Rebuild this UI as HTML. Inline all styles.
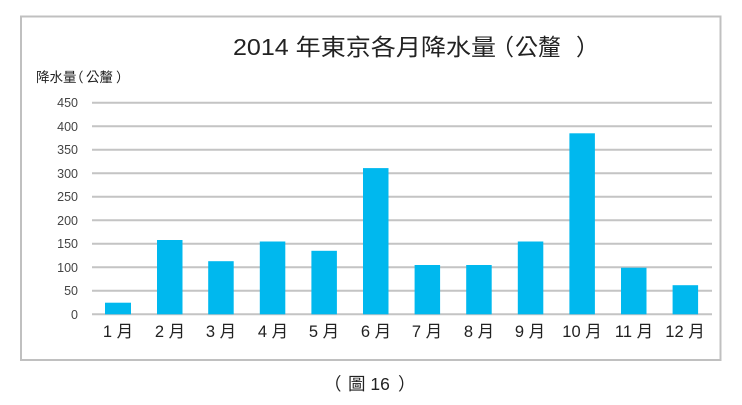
<!DOCTYPE html>
<html><head><meta charset="utf-8"><style>
body{margin:0;width:742px;height:405px;background:#fff;overflow:hidden;font-family:"Liberation Sans","Noto Sans CJK TC",sans-serif;}
</style></head><body>
<svg width="742" height="405" xmlns="http://www.w3.org/2000/svg" style="position:absolute;left:0;top:0">
<rect x="21" y="16.5" width="699.5" height="343.5" fill="#fff" stroke="#c0c0c0" stroke-width="2"/>
<g font-size="23" fill="#222" font-family="Liberation Sans,Noto Sans CJK TC,sans-serif">
<text x="233" y="55" textLength="263" lengthAdjust="spacingAndGlyphs">2014 年東京各月降水量</text>
<text x="491" y="55">（</text>
<text x="515" y="55">公釐</text>
<text x="576" y="55">）</text>
</g>
<g font-size="13.5" fill="#222" font-family="Liberation Sans,Noto Sans CJK TC,sans-serif">
<text x="36" y="82">降水量</text>
<text x="70" y="82">（</text>
<text x="86" y="82">公釐</text>
<text x="116" y="82">）</text>
</g>
<g stroke="#c4c4c4" stroke-width="2">
<line x1="92" x2="712" y1="102.7" y2="102.7"/><line x1="92" x2="712" y1="126.2" y2="126.2"/>
<line x1="92" x2="712" y1="149.7" y2="149.7"/><line x1="92" x2="712" y1="173.2" y2="173.2"/>
<line x1="92" x2="712" y1="196.7" y2="196.7"/><line x1="92" x2="712" y1="220.2" y2="220.2"/>
<line x1="92" x2="712" y1="243.8" y2="243.8"/><line x1="92" x2="712" y1="267.3" y2="267.3"/>
<line x1="92" x2="712" y1="290.8" y2="290.8"/><line x1="92" x2="712" y1="314.3" y2="314.3"/>
</g>
<g font-size="12.5" fill="#444" text-anchor="end" font-family="Liberation Sans,sans-serif">
<text x="78" y="107">450</text><text x="78" y="131">400</text><text x="78" y="154">350</text>
<text x="78" y="178">300</text><text x="78" y="201">250</text><text x="78" y="225">200</text>
<text x="78" y="248">150</text><text x="78" y="272">100</text><text x="78" y="295">50</text><text x="78" y="319">0</text>
</g>
<g fill="#00b8ee">
<rect x="105" y="302.7" width="26" height="11.6"/>
<rect x="157" y="240" width="25.5" height="74.3"/>
<rect x="208.2" y="261.2" width="25.5" height="53.1"/>
<rect x="259.8" y="241.5" width="25.5" height="72.8"/>
<rect x="311.4" y="250.8" width="25.5" height="63.5"/>
<rect x="363" y="168.1" width="25.5" height="146.2"/>
<rect x="414.6" y="265" width="25.5" height="49.3"/>
<rect x="466.2" y="265" width="25.5" height="49.3"/>
<rect x="517.8" y="241.5" width="25.5" height="72.8"/>
<rect x="569.4" y="133.3" width="25.5" height="181"/>
<rect x="621" y="267.7" width="25.5" height="46.6"/>
<rect x="672.6" y="285.2" width="25.5" height="29.1"/>
</g>
<g font-size="16.5" fill="#222" text-anchor="middle" font-family="Liberation Sans,Noto Sans CJK TC,sans-serif">
<text x="118" y="337">1 月</text><text x="170" y="337">2 月</text><text x="221" y="337">3 月</text>
<text x="273" y="337">4 月</text><text x="324" y="337">5 月</text><text x="376" y="337">6 月</text>
<text x="427" y="337">7 月</text><text x="479" y="337">8 月</text><text x="530" y="337">9 月</text>
<text x="582" y="337">10 月</text><text x="634" y="337">11 月</text><text x="685" y="337">12 月</text>
</g>
<g font-size="17.5" fill="#222" font-family="Liberation Sans,Noto Sans CJK TC,sans-serif">
<text x="324" y="390">（</text>
<text x="348" y="390">圖 16</text>
<text x="398" y="390">）</text>
</g>
</svg>
</body></html>
